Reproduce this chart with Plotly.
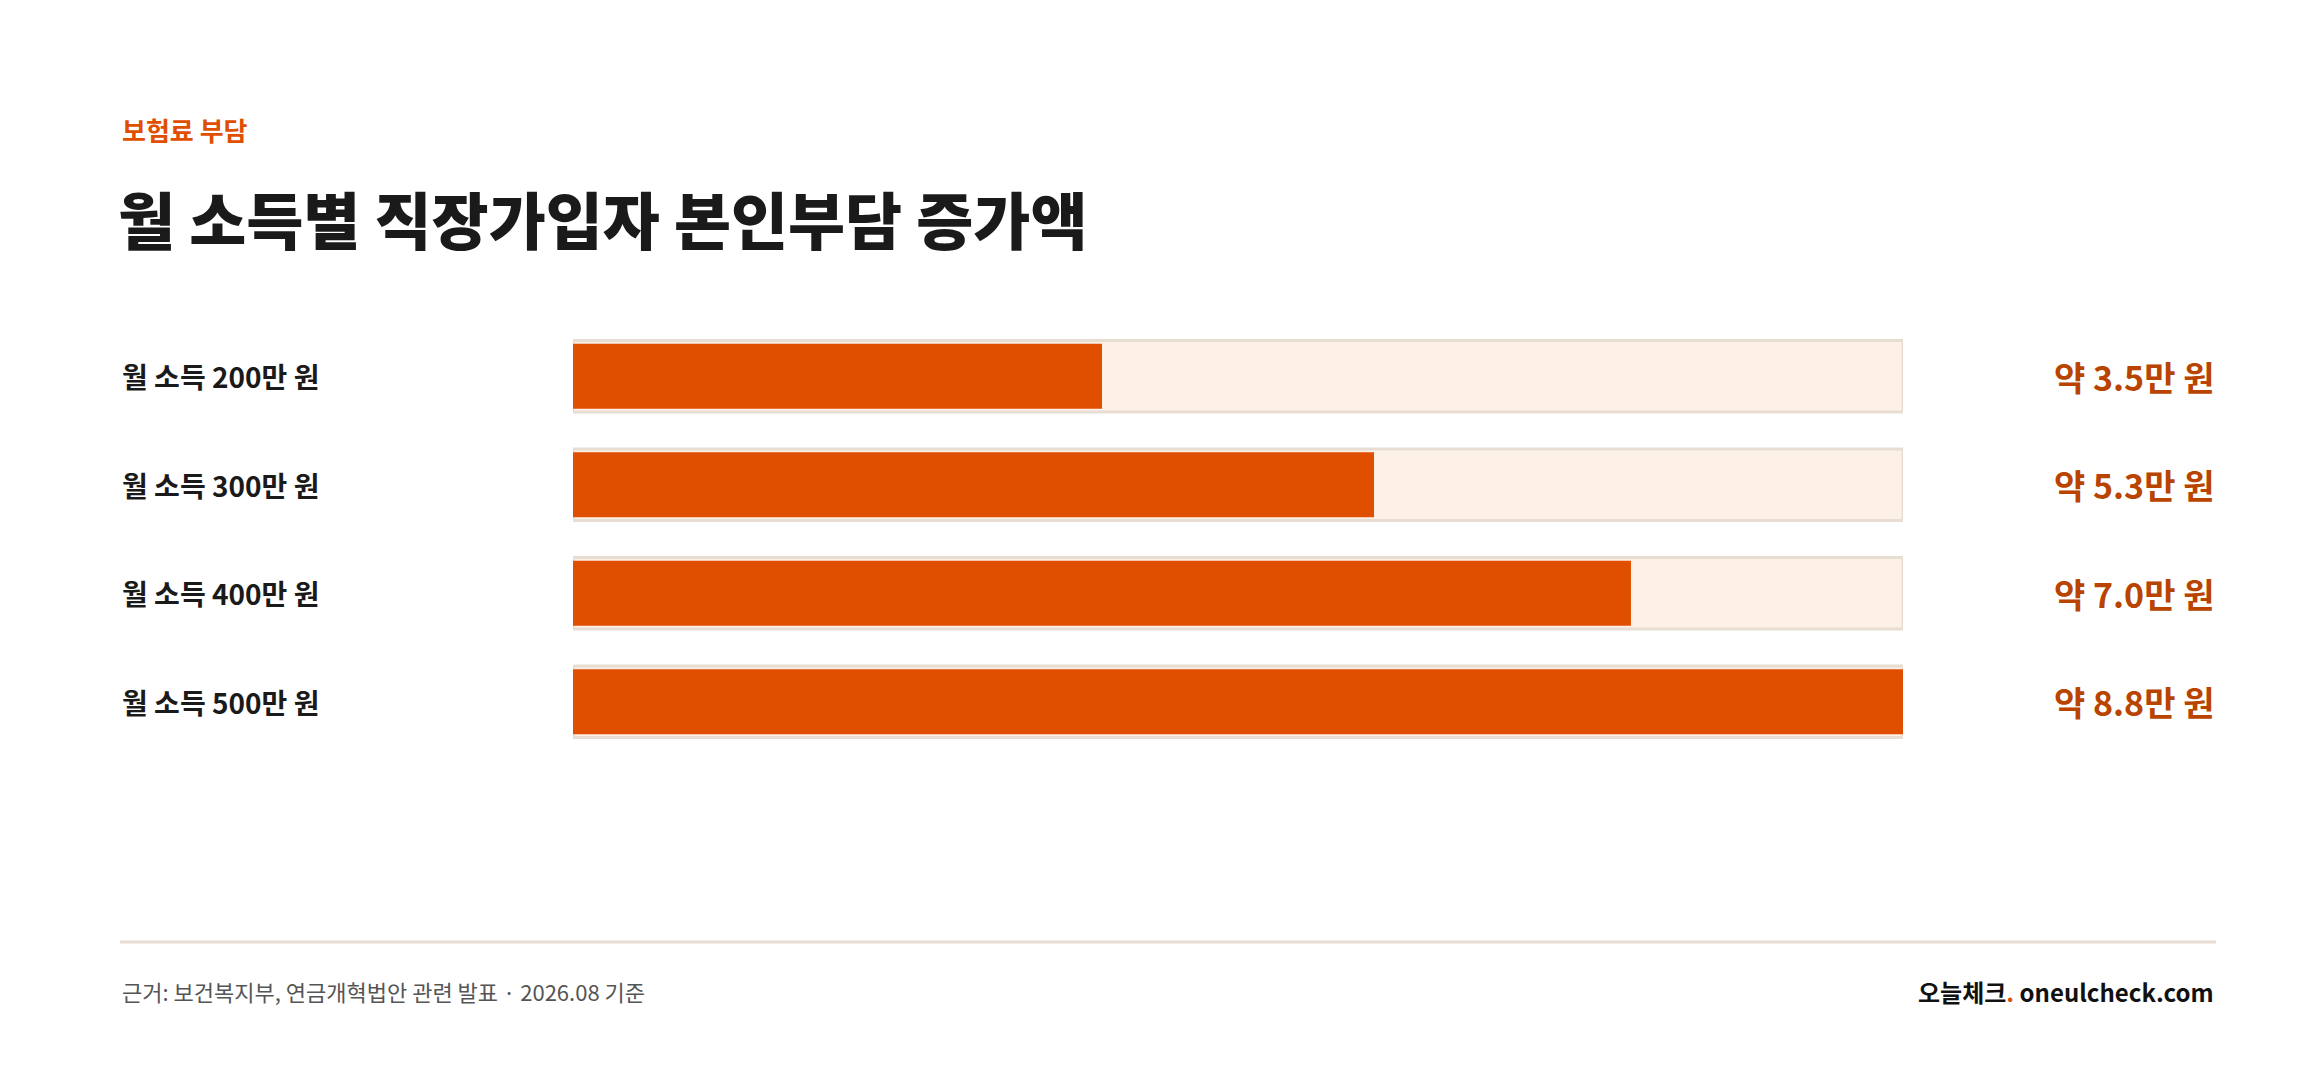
import plotly.graph_objects as go

categories = ["월 소득 200만 원", "월 소득 300만 원", "월 소득 400만 원", "월 소득 500만 원"]
values = [3.5, 5.3, 7.0, 8.8]
value_labels = ["약 3.5만 원", "약 5.3만 원", "약 7.0만 원", "약 8.8만 원"]

W, H = 2320, 1078
FONT = "Noto Sans CJK KR"
ORANGE = "#E04E00"
DARK_ORANGE = "#B84400"
maxv = max(values)

fig = go.Figure()
fig.add_trace(go.Bar(y=categories, x=[maxv] * len(values), orientation="h", width=0.66,
                     marker=dict(color="#FDF0E7", line=dict(color="#E8DDD3", width=3)),
                     hoverinfo="skip", showlegend=False))
fig.add_trace(go.Bar(y=categories, x=values, orientation="h", width=0.6,
                     marker=dict(color=ORANGE, line=dict(width=0)), showlegend=False))

x0, x1 = 565 / W, 1895 / W
fig.update_layout(
    width=W, height=H, barmode="overlay", plot_bgcolor="white", paper_bgcolor="white",
    margin=dict(l=0, r=0, t=0, b=0),
    xaxis=dict(domain=[x0, x1], range=[0, maxv], visible=False, fixedrange=True),
    yaxis=dict(domain=[1 - 748 / H, 1 - 314 / H], autorange="reversed", visible=False,
               categoryorder="array", categoryarray=categories),
    font=dict(family=FONT),
)

ann = []
for c, lab in zip(categories, value_labels):
    ann.append(dict(x=112 / W, xref="paper", y=c, yref="y", text=c, showarrow=False,
                    xanchor="left", font=dict(size=28, color="#1a1a1a", family=FONT, weight=700)))
    ann.append(dict(x=2208 / W, xref="paper", y=c, yref="y", text=lab, showarrow=False,
                    xanchor="right", font=dict(size=34, color=DARK_ORANGE, family=FONT, weight=700)))
ann += [
    dict(x=112 / W, y=1 - 121 / H, xref="paper", yref="paper", text="보험료 부담", showarrow=False,
         xanchor="left", yanchor="middle", font=dict(size=26, color=ORANGE, family=FONT, weight=700)),
    dict(x=108 / W, y=1 - 210 / H, xref="paper", yref="paper", text="월 소득별 직장가입자 본인부담 증가액",
         showarrow=False, xanchor="left", yanchor="middle",
         font=dict(size=62, color="#1a1a1a", family=FONT, weight=800)),
    dict(x=112 / W, y=1 - 983 / H, xref="paper", yref="paper",
         text="근거: 보건복지부, 연금개혁법안 관련 발표 · 2026.08 기준", showarrow=False,
         xanchor="left", yanchor="middle", font=dict(size=22, color="#555555", family=FONT)),
    dict(x=2208 / W, y=1 - 983 / H, xref="paper", yref="paper",
         text="오늘체크<span style='color:#E04E00'>.</span> oneulcheck.com", showarrow=False,
         xanchor="right", yanchor="middle", font=dict(size=24, color="#111111", family=FONT, weight=700)),
]
fig.update_layout(annotations=ann)
fig.add_shape(type="line", xref="paper", yref="paper", x0=112 / W, x1=2208 / W,
              y0=1 - 934 / H, y1=1 - 934 / H, line=dict(color="#E8DDD3", width=3))

fig.write_html("out.html", config={"displayModeBar": False})
